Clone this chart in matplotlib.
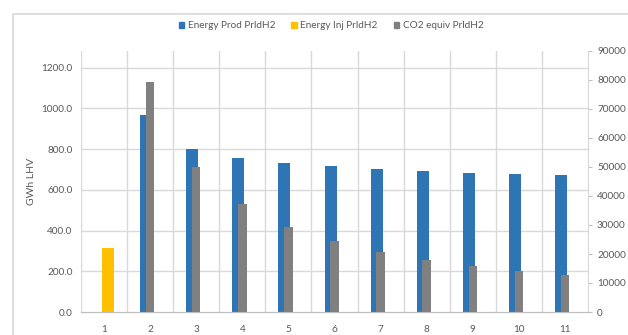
import matplotlib
matplotlib.use("Agg")
import matplotlib.pyplot as plt
from matplotlib.patches import Rectangle
import numpy as np

# ---------------- data ----------------
categories = [1, 2, 3, 4, 5, 6, 7, 8, 9, 10, 11]
energy_prod = [0, 970, 803, 758, 730, 717, 702, 692, 684, 679, 674]        # GWh LHV
energy_inj = [316, 0, 0, 0, 0, 0, 0, 0, 0, 0, 0]                          # GWh LHV
co2_equiv = [0, 79300, 50000, 37100, 29300, 24400, 20600, 17800, 15800, 14100, 12800]

left_ticks = [0, 200, 400, 600, 800, 1000, 1200]
right_ticks = list(range(0, 90001, 10000))

# ---------------- style ----------------
plt.rcParams['font.family'] = ['Lato', 'DejaVu Sans']
txt = "#595959"
grid_c = "#d9d9d9"
blue = "#2e75b6"
yellow = "#ffc000"
grey = "#808080"
fs = 7.2

fig = plt.figure(figsize=(6.28, 3.35), dpi=100)

# chart-area border
fig.patches.append(Rectangle((13 / 628, -0.1), 1.0, 1.1 - 14 / 335,
                             transform=fig.transFigure, fill=False,
                             edgecolor=grid_c, linewidth=1.2))

ax = fig.add_axes([81 / 628, 23 / 335, 507 / 628, 261 / 335])
ax2 = ax.twinx()

x = np.array(categories)

# primary axis bars
ax.bar(x - 0.085, energy_prod, width=0.26, color=blue, zorder=3)
ax.bar(x + 0.088, energy_inj, width=0.26, color=yellow, zorder=3)

# secondary axis bars
ax2.bar(x, co2_equiv, width=0.185, color=grey, zorder=3)

ax.set_xlim(0.5, 11.5)
ax.set_ylim(0, 1282)
ax2.set_ylim(0, 90000)

ax.set_xticks(categories)
ax.set_xticklabels([str(c) for c in categories])
ax.set_yticks(left_ticks)
ax.set_yticklabels([f"{v:.1f}" for v in left_ticks])
ax2.set_yticks(right_ticks)
ax2.set_yticklabels([str(v) for v in right_ticks])

# grid: horizontal on value ticks, vertical between categories
for v in left_ticks[1:]:
    ax.axhline(v, color=grid_c, linewidth=1, zorder=1)
for b in np.arange(0.5, 11.5, 1.0):
    ax.axvline(b, color=grid_c, linewidth=1, zorder=1)

for a in (ax, ax2):
    a.spines['top'].set_visible(False)
    a.spines['left'].set_visible(False)
    a.spines['right'].set_visible(False)
    a.spines['bottom'].set_color("#bfbfbf")
ax2.spines['right'].set_visible(True)
ax2.spines['right'].set_color(grid_c)

ax.tick_params(axis='y', length=0, pad=6, labelsize=fs, labelcolor=txt)
ax.tick_params(axis='x', length=0, pad=9, labelsize=fs, labelcolor=txt)
ax2.tick_params(axis='y', length=3, color="#bfbfbf", pad=3.5, labelsize=fs, labelcolor=txt)

ax.set_ylabel("GWh LHV", fontsize=fs + 0.3, color=txt, labelpad=4)

# legend
handles = [Rectangle((0, 0), 1, 1, color=c) for c in (blue, yellow, grey)]
fig.legend(handles, ["Energy Prod PrldH2", "Energy Inj PrldH2", "CO2 equiv PrldH2"],
           loc='center', bbox_to_anchor=(0.527, 1 - 26 / 335), ncol=3, frameon=False,
           fontsize=fs, labelcolor=txt, handlelength=0.55, handleheight=0.55,
           handletextpad=0.35, columnspacing=1.6)

fig.savefig("out.png", dpi=100)
